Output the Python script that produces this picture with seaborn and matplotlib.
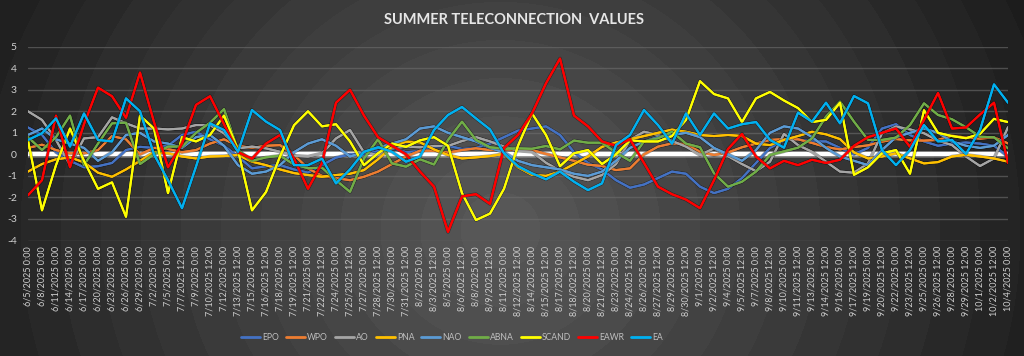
import matplotlib
matplotlib.use("Agg")
import matplotlib.pyplot as plt
import matplotlib.patheffects as pe
from matplotlib.lines import Line2D
import numpy as np
import pandas as pd
import seaborn as sns

# category labels: every 3 days in June, every 36 hours from July on
dates = list(pd.date_range("2025-06-05", "2025-07-05", freq="3D")) + list(
    pd.date_range("2025-07-07 12:00", "2025-10-04 00:00", freq="36h")
)
labels = [f"{d.month}/{d.day}/{d.year} {d.hour}:00" for d in dates]

names = ["EPO", "WPO", "AO", "PNA", "NAO", "ABNA", "SCAND", "EAWR", "EA"]
colors = ["#4472C4", "#ED7D31", "#A5A5A5", "#FFC000", "#5B9BD5",
          "#70AD47", "#FFFF00", "#FF0000", "#00B0F0"]

epo = [1.25, 0.9, 0.1, -0.3, -0.6, -0.55, -0.4, 0.2, 0.35, 0.3, 0.4, 0.9, 1.05, 0.7, 0.4,
       -0.1, -0.65, -0.55, -0.5, -0.7, -0.85, -0.5, -0.15, 0.0, 0.0, 0.15, 0.3, 0.1, 0.15,
       0.35, 0.4, 0.25, 0.3, 0.5, 0.8, 1.1, 1.2, 1.3, 0.9, 0.1, -0.4, -0.7, -1.2, -1.55,
       -1.4, -1.1, -0.8, -0.9, -1.5, -1.8, -1.6, -1.1, -0.4, 0.3, 0.65, 0.7, 0.6, 0.6, 0.3,
       0.0, 0.3, 1.2, 1.4, 0.9, 0.6, 0.4, 0.5, 0.55, 0.5, 0.4, -0.1]
wpo = [0.3, 0.45, 0.2, 0.05, 0.05, 0.2, 0.85, 0.7, 0.0, 0.3, 0.25, 0.1, 0.2, 0.5, 0.7,
       0.4, 0.3, 0.4, 0.43, -0.03, -0.65, -1.0, -1.1, -1.2, -1.04, -0.8, -0.45, -0.1, 0.17,
       0.17, 0.08, 0.2, 0.28, 0.2, 0.23, 0.2, 0.2, 0.02, -0.14, -0.3, -0.48, -0.54, -0.73,
       -0.65, 0.0, 0.36, 0.51, 0.48, 0.12, -0.03, 0.09, 0.33, 0.5, 0.67, 0.71, 0.7, 0.53,
       0.34, 0.23, 0.34, 0.42, 0.59, 0.71, 0.65, 0.64, 0.67, 0.87, 0.78, 0.73, 0.79, 0.51]
ao = [2.0, 1.6, 0.67, -0.5, 0.74, 0.8, 1.72, 1.44, 1.2, 1.2, 1.16, 1.2, 1.36, 1.36, 0.98,
      0.28, 0.36, 0.28, 0.12, -0.06, -0.1, 0.05, 0.74, 1.13, 0.09, -0.02, 0.28, 0.36, 0.33,
      0.39, 0.39, 0.62, 0.8, 0.6, 0.36, 0.17, 0.12, -0.39, -0.76, -1.04, -1.2, -0.96, -0.45,
      0.67, 1.05, 0.9, 0.62, 0.36, -0.03, 0.28, -0.08, -0.45, -0.78, -0.34, 0.95, 0.43,
      0.12, -0.34, -0.8, -0.85, -0.42, 0.98, 1.29, 1.16, 0.98, 0.64, 0.43, -0.1, -0.54,
      -0.19, 1.26]
pna = [-0.8, -0.45, -0.23, -0.14, -0.37, -0.85, -1.04, -0.7, -0.3, 0.1, 0.05, -0.1, -0.19,
       -0.1, -0.08, -0.03, -0.34, -0.5, -0.7, -0.87, -0.96, -1.04, -0.96, -0.9, -0.73, -0.23,
       0.36, 0.59, 0.56, 0.23, -0.03, -0.19, -0.14, -0.08, 0.02, -0.6, -0.95, -1.0, -0.8,
       -0.45, -0.1, 0.35, 0.55, 0.7, 0.85, 1.0, 1.15, 1.05, 0.9, 0.85, 0.9, 0.85, 0.5, 0.43,
       0.67, 0.85, 1.05, 0.93, 0.71, 0.09, -0.19, -0.1, 0.05, -0.19, -0.42, -0.36, -0.1,
       -0.02, -0.1, -0.19, -0.34]
nao = [0.9, 1.2, 0.7, 0.5, 0.3, -0.3, 0.1, 0.9, 1.0, 0.6, 0.5, 0.3, 0.8, 0.9, 0.4, -0.5,
       -0.9, -0.8, -0.5, 0.1, 0.5, 0.7, 0.4, -0.1, 0.1, 0.3, 0.5, 0.7, 1.2, 1.3, 1.0, 0.8,
       0.6, 0.3, 0.1, -0.3, -0.5, -0.6, -0.7, -0.9, -1.0, -0.8, -0.3, 0.3, 0.6, 0.8, 0.9,
       1.0, 0.8, 0.3, 0.0, -0.3, 0.2, 1.0, 1.3, 1.2, 0.8, 0.3, -0.1, -0.3, -0.5, 0.2, 0.8,
       1.0, 1.2, 1.0, 0.6, 0.4, 0.3, 0.4, 0.9]
abna = [0.8, 0.2, 0.8, 1.8, -0.5, 0.5, 1.44, 1.47, -0.45, 0.0, 0.36, 0.36, 1.0, 1.47, 2.1,
        0.2, -0.3, -0.14, -0.06, -0.47, -0.64, -0.62, -1.2, -1.74, -0.19, 0.7, -0.42, -0.57,
        -0.23, -0.47, 0.67, 1.52, 0.67, 0.33, 0.26, 0.28, 0.26, 0.39, 0.23, 0.64, 0.54, 0.54,
        0.08, -0.3, 0.6, 0.74, 1.05, 0.5, 0.33, -0.88, -1.5, -1.27, -0.8, -0.03, 0.14, 0.31,
        0.74, 1.75, 2.45, 1.52, 0.67, 0.67, 0.78, 1.36, 2.37, 1.83, 1.63, 1.26, 0.82, 0.79,
        0.28]
scand = [0.65, -2.6, -0.5, 1.2, -0.3, -1.6, -1.3, -2.9, 1.8, 1.2, -1.8, 0.8, 0.6, 0.9, 1.8,
         0.2, -2.6, -1.75, -0.1, 1.35, 2.0, 1.3, 1.4, 0.6, -0.5, 0.05, 0.5, 0.35, 0.65, 0.8,
         0.4, -1.8, -3.05, -2.75, -1.6, 0.4, 1.9, 0.9, -0.55, 0.05, 0.2, -0.45, 0.0, 0.65,
         0.6, 0.6, 0.85, 1.6, 3.4, 2.8, 2.6, 1.5, 2.6, 2.9, 2.5, 2.15, 1.5, 1.6, 2.4, -0.95,
         -0.6, 0.05, 0.2, -0.9, 2.05, 1.0, 0.85, 0.75, 0.95, 1.65, 1.5]
eawr = [-1.9, -1.2, 1.8, -0.6, 1.4, 3.1, 2.7, 1.7, 3.8, 1.5, -0.6, 0.5, 2.3, 2.7, 1.4, 0.1,
        -0.2, 0.5, 0.9, -0.2, -1.6, -0.4, 2.4, 3.0, 1.8, 0.8, 0.4, 0.0, -0.8, -1.5, -3.6,
        -1.95, -1.85, -2.3, 0.3, 0.9, 1.9, 3.3, 4.45, 1.8, 1.3, 0.6, 0.4, 0.7, -0.4, -1.5,
        -1.85, -2.1, -2.5, -1.2, 0.25, 0.95, -0.1, -0.65, -0.3, -0.5, -0.25, -0.4, -0.25, 0.4,
        0.8, 1.0, 1.2, 0.35, 1.6, 2.85, 1.2, 1.25, 1.85, 2.4, -0.4]
ea = [0.67, 0.98, 1.67, 0.36, 1.9, 0.67, 0.6, 2.6, 2.0, 0.0, -1.2, -2.5, -0.57, 1.44, 1.13,
      0.12, 2.06, 1.52, 1.13, -0.5, -0.5, -0.2, -1.35, -0.7, 0.12, 0.33, 0.12, -0.34, -0.1,
      1.13, 1.83, 2.2, 1.67, 1.16, 0.05, -0.55, -0.88, -1.16, -0.8, -1.27, -1.66, -1.35,
      0.43, 0.9, 2.06, 1.36, 0.5, 1.9, 0.9, 1.9, 1.2, 1.4, 1.5, 0.67, 0.31, 1.94, 1.52, 2.4,
      1.44, 2.71, 2.37, 0.2, -0.5, 0.2, 1.36, 0.6, 0.67, 0.02, 1.13, 3.25, 2.4]

values = [epo, wpo, ao, pna, nao, abna, scand, eawr, ea]

df = pd.concat(
    [pd.DataFrame({"pos": np.arange(len(v)), "value": v, "index": n})
     for n, v in zip(names, values)],
    ignore_index=True,
)

sns.set_style("dark")
plt.rcParams["font.family"] = ["Lato", "DejaVu Sans"]

W, H = 1024, 356
fig = plt.figure(figsize=(W / 100, H / 100), dpi=100)

# radial banded background
bg = fig.add_axes([0, 0, 1, 1])
yy, xx = np.mgrid[0:H, 0:W]
r = np.hypot(xx - 500, (yy - 230) * 1.05) / 560
r = np.floor(np.clip(r, 0, 1) * 14) / 14
shade = 0.345 - 0.235 * r
bg.imshow(np.dstack([shade] * 3), extent=[0, 1, 0, 1], aspect="auto")
bg.axis("off")

ax = fig.add_axes([28 / W, 1 - 240.5 / H, 980 / W, 193.8 / H])
ax.set_facecolor("none")

for y in range(-4, 6):
    ax.axhline(y, color="#6e6e6e", lw=1.0, alpha=0.6, zorder=1)
ax.axhline(0, color="white", lw=3.2, zorder=1.5,
           path_effects=[pe.withStroke(linewidth=5, foreground=(1, 1, 1, 0.25))])

sns.lineplot(data=df, x="pos", y="value", hue="index", hue_order=names,
             palette=colors, linewidth=1.5, legend=False, ax=ax, zorder=3)
for line in ax.lines[-len(names):]:
    line.set_path_effects([pe.withStroke(linewidth=2.6, foreground=(0, 0, 0, 0.35)), pe.Normal()])

ax.set_xlim(0, len(labels) - 1)
ax.set_ylim(-4, 5)
ax.set_xticks(range(len(labels)))
ax.set_xticklabels(labels, rotation=90, fontsize=6.5, color="#d0d0d0")
ax.set_yticks(range(-4, 6))
ax.set_yticklabels([str(v) for v in range(-4, 6)], fontsize=7.5, color="#d0d0d0")
ax.tick_params(axis="both", length=0, pad=4)
ax.tick_params(axis="y", pad=8)
ax.set_xlabel("")
ax.set_ylabel("")
ax.grid(False)
for s in ax.spines.values():
    s.set_visible(False)

fig.text(514 / W, 1 - 20 / H, "SUMMER TELECONNECTION  VALUES", ha="center", va="center",
         fontsize=10.5, fontweight="bold", color="#e6e6e6")

handles = [Line2D([0], [0], color=c, lw=2) for c in colors]
fig.legend(handles, names, loc="center", bbox_to_anchor=(452 / W, 1 - 338 / H), ncol=9,
           frameon=False, fontsize=6.2, labelcolor="#bfbfbf", handlelength=2.2,
           handletextpad=0.25, columnspacing=0.8)

fig.savefig("out.png", dpi=100)
